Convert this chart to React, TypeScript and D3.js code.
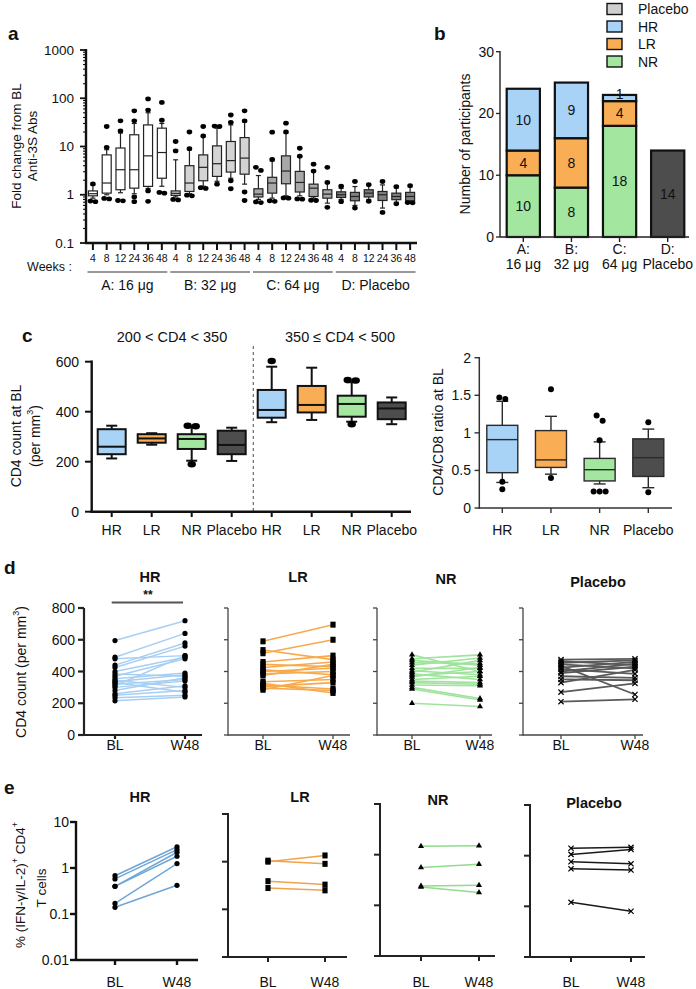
import React from "react";
import * as d3 from "d3";

const FONT = "'Liberation Sans', Arial, Helvetica, sans-serif";

const C_HR = "#a9d2f7";
const C_LR = "#f9ae55";
const C_NR = "#a2e6a0";
const C_PL = "#4d4d4d";

// ---------- Panel a ----------
const weekLabels = ["4", "8", "12", "24", "36", "48"];
const doseGroups = ["A: 16 μg", "B: 32 μg", "C: 64 μg", "D: Placebo"];
const groupFills = ["#ffffff", "#d4d4d4", "#a8a8a8", "#7f7f7f"];
const aTicks = [0.1, 1, 10, 100, 1000];
// [whisker low, q1, median, q3, whisker high]
const aStats: number[][] = [
  [0.85, 0.95, 1.05, 1.2, 1.6],
  [1.0, 1.08, 1.75, 6.7, 8.6],
  [1.1, 1.27, 3.3, 9.3, 19],
  [1.05, 1.37, 3.3, 17.5, 30],
  [1.35, 1.49, 6.4, 28, 50],
  [1.5, 2.2, 7.5, 24, 30],
  [0.9, 0.97, 1.07, 1.2, 5.3],
  [1.05, 1.17, 1.75, 4.0, 8.5],
  [1.5, 1.95, 3.7, 6.7, 16],
  [1.9, 2.4, 4.4, 10.3, 24],
  [2.2, 2.95, 5.1, 12.7, 28],
  [1.66, 2.67, 5.75, 15.3, 32],
  [0.8, 0.9, 1.03, 1.33, 2.5],
  [0.85, 1.08, 1.75, 2.3, 5.0],
  [0.95, 1.69, 3.1, 6.4, 19],
  [0.95, 1.14, 1.8, 3.05, 6.0],
  [0.85, 0.92, 1.37, 1.66, 3.0],
  [0.67, 0.85, 1.03, 1.27, 1.75],
  [0.8, 0.88, 1.0, 1.15, 1.35],
  [0.6, 0.75, 0.92, 1.12, 1.48],
  [0.8, 0.9, 1.08, 1.27, 1.6],
  [0.53, 0.76, 1.0, 1.17, 1.6],
  [0.7, 0.79, 0.92, 1.08, 1.37],
  [0.7, 0.75, 0.92, 1.12, 1.44],
];
const aOutliers: number[][] = [
  [0.72, 0.74, 1.68],
  [0.82, 0.84, 9.6, 26],
  [0.75, 0.76, 21, 34],
  [0.72, 0.9, 34, 55],
  [0.73, 1.2, 57, 97],
  [1.08, 1.12, 35, 82],
  [0.78, 0.8, 8.1, 12.7],
  [0.95, 0.98, 9.0, 20],
  [1.35, 1.4, 16.5, 26],
  [1.66, 26, 26.5],
  [1.33, 1.95, 31.5, 45],
  [0.76, 1.14, 34, 55],
  [0.69, 0.71, 3.2, 3.7],
  [0.73, 0.75, 5.4, 19.8],
  [0.85, 0.86, 20, 30.5],
  [0.81, 0.82, 6.3, 9.2],
  [0.76, 0.77, 3.1, 4.3],
  [0.55, 1.8, 3.7],
  [0.72, 1.5],
  [0.53, 1.88],
  [0.73, 1.62],
  [0.43, 1.88],
  [0.65, 1.48],
  [0.68, 0.69, 1.55],
];

// ---------- Panel b ----------
const bCats = ["A", "B", "C", "D"];
const bLabel1 = ["A:", "B:", "C:", "D:"];
const bLabel2 = ["16 μg", "32 μg", "64 μg", "Placebo"];
const bNR = [10, 8, 18, 0];
const bLR = [4, 8, 4, 0];
const bHR = [10, 9, 1, 0];
const bPlacebo = [0, 0, 0, 14];
const bTicks = [0, 10, 20, 30];
const legendKeys = ["Placebo", "HR", "LR", "NR"];

// ---------- Panel c ----------
const cCats = ["HR", "LR", "NR", "Placebo"];
const cTicks = [0, 200, 400, 600];
const cLowStats: number[][] = [
  [213, 230, 260, 330, 344],
  [268, 276, 293, 310, 314],
  [204, 251, 291, 310, 338],
  [203, 230, 267, 324, 336],
];
const cLowOut: number[][] = [[], [], [190, 342, 344], []];
const cHighStats: number[][] = [
  [358, 376, 407, 487, 580],
  [367, 397, 427, 503, 576],
  [360, 380, 431, 464, 518],
  [350, 370, 413, 437, 457],
];
const cHighOut: number[][] = [[603], [], [350, 525, 527], []];
const ratioTicks = [0, 0.5, 1, 1.5, 2];
const ratioStats: number[][] = [
  [0.34, 0.47, 0.91, 1.1, 1.42],
  [0.45, 0.54, 0.64, 1.03, 1.22],
  [0.32, 0.36, 0.51, 0.66, 0.88],
  [0.27, 0.42, 0.67, 0.92, 1.05],
];
const ratioOut: number[][] = [
  [0.25, 0.35, 1.45, 1.47],
  [0.4, 1.58],
  [0.22, 0.22, 0.22, 0.9, 1.16, 1.23],
  [0.21, 1.14],
];

// ---------- Panel d ----------
const dGroups = ["HR", "LR", "NR", "Placebo"];
const dTimes = ["BL", "W48"];
const dTicks = [0, 200, 400, 600, 800];
const dHR_BL = [595, 490, 480, 440, 425, 400, 385, 370, 355, 345, 335, 320, 310, 300, 260, 250, 235, 215, 330, 280];
const dHR_W48 = [720, 640, 500, 580, 560, 490, 370, 480, 390, 300, 380, 350, 500, 340, 310, 280, 250, 240, 270, 360];
const dLR_BL = [590, 535, 515, 460, 445, 425, 410, 400, 385, 375, 335, 325, 315, 305, 295, 285];
const dLR_W48 = [695, 475, 600, 500, 430, 460, 380, 420, 400, 445, 350, 265, 290, 330, 280, 375];
const dNR_BL = [505, 480, 470, 455, 440, 420, 405, 395, 385, 375, 365, 350, 340, 330, 315, 300, 290, 200];
const dNR_W48 = [400, 505, 440, 450, 485, 420, 380, 470, 350, 400, 425, 370, 330, 320, 310, 230, 220, 180];
const dPL_BL = [475, 465, 455, 445, 435, 425, 415, 400, 390, 370, 350, 330, 270, 210];
const dPL_W48 = [480, 440, 470, 420, 255, 460, 385, 450, 430, 360, 345, 410, 325, 225];

// ---------- Panel e ----------
const eTicks = [0.01, 0.1, 1, 10];
const eHR_BL = [0.68, 0.58, 0.4, 0.17, 0.14, 0.4];
const eHR_W48 = [2.9, 2.5, 2.2, 1.25, 0.42, 1.8];
const eLR_BL = [1.05, 1.0, 0.39, 0.28];
const eLR_W48 = [0.9, 1.35, 0.33, 0.25];
const eNR_BL = [1.46, 0.56, 0.24, 0.23];
const eNR_W48 = [1.5, 0.65, 0.25, 0.18];
const ePL_BL = [1.4, 1.06, 0.76, 0.55, 0.12];
const ePL_W48 = [1.46, 1.33, 0.69, 0.52, 0.08];

// ---------- helpers ----------
function spreadPts(vals: number[], yf: (v: number) => number, thr: number, gap: number) {
  const pts = vals.map((v) => ({ v, py: yf(v) })).sort((a, b) => a.py - b.py);
  const out: { py: number; dx: number }[] = [];
  let i = 0;
  while (i < pts.length) {
    let j = i + 1;
    while (j < pts.length && Math.abs(pts[j].py - pts[j - 1].py) < thr) j++;
    const n = j - i;
    for (let k = 0; k < n; k++) out.push({ py: pts[i + k].py, dx: (k - (n - 1) / 2) * gap });
    i = j;
  }
  return out;
}

function BoxG(props: any) {
  const { cx, w, cap, s, y, fill, stroke, sw } = props;
  const [lo, q1, md, q3, hi] = s;
  return (
    <g>
      <line x1={cx} x2={cx} y1={y(hi)} y2={y(q3)} stroke={stroke} strokeWidth={sw} />
      <line x1={cx} x2={cx} y1={y(q1)} y2={y(lo)} stroke={stroke} strokeWidth={sw} />
      <line x1={cx - cap / 2} x2={cx + cap / 2} y1={y(hi)} y2={y(hi)} stroke={stroke} strokeWidth={sw} />
      <line x1={cx - cap / 2} x2={cx + cap / 2} y1={y(lo)} y2={y(lo)} stroke={stroke} strokeWidth={sw} />
      <rect x={cx - w / 2} y={y(q3)} width={w} height={Math.max(0.5, y(q1) - y(q3))} fill={fill} stroke={stroke} strokeWidth={sw} />
      <line x1={cx - w / 2} x2={cx + w / 2} y1={y(md)} y2={y(md)} stroke={stroke} strokeWidth={sw} />
    </g>
  );
}

function Marker(props: any) {
  const { kind, x, y } = props;
  if (kind === "circle") return <circle cx={x} cy={y} r={2.6} fill="#000" />;
  if (kind === "square") return <rect x={x - 2.6} y={y - 3} width={5.2} height={6} fill="#000" />;
  if (kind === "triangle") {
    const p = d3.symbol().type(d3.symbolTriangle).size(16)();
    return <path d={p || ""} transform={`translate(${x},${y})`} fill="#000" />;
  }
  const s = 2.6;
  return (
    <g stroke="#000" strokeWidth={1.2}>
      <line x1={x - s} y1={y - s} x2={x + s} y2={y + s} />
      <line x1={x - s} y1={y + s} x2={x + s} y2={y - s} />
    </g>
  );
}

export default function App() {
  // ---- Panel a scales ----
  const yA = d3.scaleLog().domain([0.1, 1000]).range([243, 50]);
  const idxA = d3.range(24).map(String);
  const xA = d3.scalePoint<string>().domain(idxA).range([86, 417]).padding(0.5);
  const stepA = xA.step();
  const aAllTicks = yA.ticks();
  const isMajor = (t: number) => Math.abs(Math.log10(t) - Math.round(Math.log10(t))) < 1e-6;

  // ---- Panel b ----
  const yB = d3.scaleLinear().domain([0, 30]).range([237, 51.7]);
  const xB = d3.scaleBand<string>().domain(bCats).range([499, 692]).paddingInner(0.31).paddingOuter(0.16);
  const bRows = bCats.map((c, i) => ({ cat: c, NR: bNR[i], LR: bLR[i], HR: bHR[i], Placebo: bPlacebo[i] }));
  const stackB = d3.stack<any>().keys(["NR", "LR", "HR", "Placebo"])(bRows);
  const bColor: Record<string, string> = { NR: C_NR, LR: C_LR, HR: C_HR, Placebo: C_PL };
  const legColor: Record<string, string> = { Placebo: "#cfcfcf", HR: C_HR, LR: C_LR, NR: C_NR };
  const fills4 = [C_HR, C_LR, C_NR, C_PL];

  // ---- Panel c ----
  const yC = d3.scaleLinear().domain([0, 600]).range([511.7, 361.7]);
  const cAllCats = d3.range(8).map(String);
  const xC = d3.scalePoint<string>().domain(cAllCats).range([111.7, 391.7]);
  const yR = d3.scaleLinear().domain([0, 2]).range([508, 357.7]);
  const xR = d3.scalePoint<string>().domain(cCats).range([502.3, 648.3]);

  // ---- Panel d ----
  const yD = d3.scaleLinear().domain([0, 800]).range([735, 608]);
  const dX0 = [84, 228, 377, 523];
  const dXEnd = [202, 350, 492, 643];
  const dXs = [
    d3.scalePoint<string>().domain(dTimes).range([115, 185]),
    d3.scalePoint<string>().domain(dTimes).range([263, 333]),
    d3.scalePoint<string>().domain(dTimes).range([412, 480]),
    d3.scalePoint<string>().domain(dTimes).range([561, 635]),
  ];
  const dBL = [dHR_BL, dLR_BL, dNR_BL, dPL_BL];
  const dW = [dHR_W48, dLR_W48, dNR_W48, dPL_W48];
  const dLine = ["#a7cff3", "#f7aa4c", "#9fe39c", "#5a5a5a"];
  const dLineW = [1.5, 1.6, 1.6, 1.8];
  const kinds = ["circle", "square", "triangle", "x"];
  const dTitleY = [582, 582, 584, 587];

  // ---- Panel e ----
  const eX0 = [76, 228, 380, 530];
  const eXEnd = [198, 347, 495, 645];
  const eXs = [
    d3.scalePoint<string>().domain(dTimes).range([115, 177]),
    d3.scalePoint<string>().domain(dTimes).range([268, 325]),
    d3.scalePoint<string>().domain(dTimes).range([421, 479]),
    d3.scalePoint<string>().domain(dTimes).range([571, 631]),
  ];
  const eYs = [
    d3.scaleLog().domain([0.01, 10]).range([960, 822]),
    d3.scaleLog().domain([0.01, 10]).range([957, 814]),
    d3.scaleLog().domain([0.01, 10]).range([956, 804]),
    d3.scaleLog().domain([0.01, 10]).range([957, 805]),
  ];
  const eBL = [eHR_BL, eLR_BL, eNR_BL, ePL_BL];
  const eW = [eHR_W48, eLR_W48, eNR_W48, ePL_W48];
  const eLine = ["#6fa6d6", "#f3a24b", "#8fdc8b", "#1a1a1a"];
  const eTitlePos = [[140, 802], [300, 802], [438, 805], [594, 808]];

  const txt = { fontFamily: FONT, fill: "#111" } as any;

  return (
    <svg width={696} height={989} style={{ position: "absolute", left: 0, top: 0, background: "#fff" }} fontFamily={FONT}>
      <rect x={0} y={0} width={696} height={989} fill="#fff" />

      {/* ================= Panel a ================= */}
      <text x={8} y={40} fontSize={19} fontWeight="bold" {...txt}>a</text>
      <g transform="translate(16,146) rotate(-90)">
        <text textAnchor="middle" fontSize={13.5} dominantBaseline="central" {...txt}>Fold change from BL</text>
      </g>
      <g transform="translate(32,146) rotate(-90)">
        <text textAnchor="middle" fontSize={13.5} dominantBaseline="central" {...txt}>Anti-3S Abs</text>
      </g>
      {aAllTicks.map((t, i) => (
        <line key={"at" + i} x1={86} x2={isMajor(t) ? 80 : 83} y1={yA(t)} y2={yA(t)} stroke="#111" strokeWidth={isMajor(t) ? 1.8 : 1.1} />
      ))}
      {aTicks.map((t) => (
        <text key={"al" + t} x={74} y={yA(t)} textAnchor="end" dominantBaseline="central" fontSize={13.5} {...txt}>
          {String(t)}
        </text>
      ))}
      <line x1={86} x2={86} y1={49} y2={244} stroke="#111" strokeWidth={2.4} />
      <line x1={85} x2={417} y1={243} y2={243} stroke="#111" strokeWidth={2.4} />
      {idxA.map((k, i) => (
        <line key={"axt" + i} x1={xA(k)!} x2={xA(k)!} y1={243} y2={250} stroke="#111" strokeWidth={2} />
      ))}
      {idxA.map((k, i) => (
        <text key={"awl" + i} x={xA(k)!} y={262} textAnchor="middle" fontSize={10.5} {...txt}>
          {weekLabels[i % 6]}
        </text>
      ))}
      <text x={72} y={271} textAnchor="end" fontSize={12.5} {...txt}>Weeks :</text>
      {doseGroups.map((g, gi) => {
        const x1 = xA(String(gi * 6))! - stepA / 2 + 1.5;
        const x2 = xA(String(gi * 6 + 5))! + stepA / 2 - 1.5;
        return (
          <g key={"ag" + gi}>
            <line x1={x1} x2={x2} y1={272} y2={272} stroke="#333" strokeWidth={1.2} />
            <text x={(x1 + x2) / 2} y={290} textAnchor="middle" fontSize={14} {...txt}>{g}</text>
          </g>
        );
      })}
      {aStats.map((s, i) => {
        const cx = xA(String(i))!;
        return (
          <g key={"ab" + i}>
            <BoxG cx={cx} w={9} cap={5} s={s} y={yA} fill={groupFills[Math.floor(i / 6)]} stroke="#222" sw={1.2} />
            {spreadPts(aOutliers[i], yA, 4, 5).map((p, j) => (
              <ellipse key={j} cx={cx + p.dx} cy={p.py} rx={2.8} ry={2.4} fill="#000" />
            ))}
          </g>
        );
      })}

      {/* ================= Panel b ================= */}
      <text x={434} y={40} fontSize={19} fontWeight="bold" {...txt}>b</text>
      {legendKeys.map((k, i) => (
        <g key={"lg" + k}>
          <rect x={607} y={9 + i * 17.5 - 5.5} width={15} height={11} fill={legColor[k]} stroke="#111" strokeWidth={1.4} />
          <text x={638} y={9 + i * 17.5} dominantBaseline="central" fontSize={14} {...txt}>{k}</text>
        </g>
      ))}
      <g transform="translate(465,144) rotate(-90)">
        <text textAnchor="middle" dominantBaseline="central" fontSize={14} {...txt}>Number of participants</text>
      </g>
      {bTicks.map((t) => (
        <g key={"bt" + t}>
          <line x1={496} x2={500} y1={yB(t)} y2={yB(t)} stroke="#222" strokeWidth={1.3} />
          <text x={494} y={yB(t)} textAnchor="end" dominantBaseline="central" fontSize={14} {...txt}>{t}</text>
        </g>
      ))}
      {stackB.map((ser) =>
        ser.map((d: any, i: number) => {
          const v = d[1] - d[0];
          if (v <= 0) return null;
          const x = xB(bCats[i])!;
          const bw = xB.bandwidth();
          const y0 = yB(d[1]);
          const h = yB(d[0]) - yB(d[1]);
          return (
            <g key={ser.key + i}>
              <rect x={x} y={y0} width={bw} height={h} fill={bColor[ser.key]} stroke="#111" strokeWidth={2.2} />
              <text x={x + bw / 2} y={y0 + h / 2 + (v === 1 ? -4 : 0)} textAnchor="middle" dominantBaseline="central" fontSize={14} fill="#111" fontFamily={FONT}>
                {v}
              </text>
            </g>
          );
        })
      )}
      <line x1={500} x2={500} y1={51} y2={237} stroke="#222" strokeWidth={1.4} />
      <line x1={500} x2={689} y1={237} y2={237} stroke="#222" strokeWidth={1.6} />
      {bCats.map((c, i) => {
        const cx = xB(c)! + xB.bandwidth() / 2;
        return (
          <g key={"bx" + c}>
            <line x1={cx} x2={cx} y1={237} y2={242} stroke="#222" strokeWidth={1.4} />
            <text x={cx} y={254} textAnchor="middle" fontSize={14} {...txt}>{bLabel1[i]}</text>
            <text x={cx} y={269} textAnchor="middle" fontSize={14} {...txt}>{bLabel2[i]}</text>
          </g>
        );
      })}

      {/* ================= Panel c ================= */}
      <text x={22} y={342} fontSize={19} fontWeight="bold" {...txt}>c</text>
      <text x={172} y={342} textAnchor="middle" fontSize={14.5} {...txt}>200 &lt; CD4 &lt; 350</text>
      <text x={340} y={342} textAnchor="middle" fontSize={14.5} {...txt}>350 ≤ CD4 &lt; 500</text>
      <line x1={253.3} x2={253.3} y1={346} y2={511} stroke="#666" strokeWidth={1.2} strokeDasharray="3,3" />
      <g transform="translate(16,436) rotate(-90)">
        <text textAnchor="middle" dominantBaseline="central" fontSize={14} {...txt}>CD4 count at BL</text>
      </g>
      <g transform="translate(35,436) rotate(-90)">
        <text textAnchor="middle" dominantBaseline="central" fontSize={14} {...txt}>
          (per mm<tspan dy={-5} fontSize={9}>3</tspan><tspan dy={5}>)</tspan>
        </text>
      </g>
      {cTicks.map((t) => (
        <g key={"ct" + t}>
          <line x1={85} x2={91.7} y1={yC(t)} y2={yC(t)} stroke="#111" strokeWidth={2} />
          <text x={79} y={yC(t)} textAnchor="end" dominantBaseline="central" fontSize={14} {...txt}>{t}</text>
        </g>
      ))}
      {cAllCats.map((k, i) => {
        const cx = xC(k)!;
        const ci = i % 4;
        const s = i < 4 ? cLowStats[ci] : cHighStats[ci];
        const outs = i < 4 ? cLowOut[ci] : cHighOut[ci];
        return (
          <g key={"cb" + i}>
            <BoxG cx={cx} w={28} cap={11} s={s} y={yC} fill={fills4[ci]} stroke="#111" sw={2} />
            {spreadPts(outs, yC, 4, 8).map((p, j) => (
              <ellipse key={j} cx={cx + p.dx} cy={p.py} rx={4.2} ry={3.2} fill="#000" />
            ))}
            <line x1={cx} x2={cx} y1={511.7} y2={517} stroke="#111" strokeWidth={2} />
            <text x={cx} y={535} textAnchor="middle" fontSize={14} {...txt}>{cCats[ci]}</text>
          </g>
        );
      })}
      <line x1={91.7} x2={91.7} y1={360.5} y2={512.8} stroke="#111" strokeWidth={2.4} />
      <line x1={90.5} x2={411} y1={511.7} y2={511.7} stroke="#111" strokeWidth={2.4} />

      {/* right chart */}
      <g transform="translate(438,432) rotate(-90)">
        <text textAnchor="middle" dominantBaseline="central" fontSize={14} {...txt}>CD4/CD8 ratio at BL</text>
      </g>
      {ratioTicks.map((t) => (
        <g key={"rt" + t}>
          <line x1={474.5} x2={479.3} y1={yR(t)} y2={yR(t)} stroke="#333" strokeWidth={1.4} />
          <text x={471} y={yR(t)} textAnchor="end" dominantBaseline="central" fontSize={14} {...txt}>{String(t)}</text>
        </g>
      ))}
      {cCats.map((c, i) => {
        const cx = xR(c)!;
        return (
          <g key={"rb" + c}>
            <BoxG cx={cx} w={31} cap={12} s={ratioStats[i]} y={yR} fill={fills4[i]} stroke="#2a2a2a" sw={1.4} />
            {spreadPts(ratioOut[i], yR, 6, 6).map((p, j) => (
              <circle key={j} cx={cx + p.dx} cy={p.py} r={3} fill="#000" />
            ))}
            <line x1={cx} x2={cx} y1={508} y2={513} stroke="#333" strokeWidth={1.4} />
            <text x={cx} y={535} textAnchor="middle" fontSize={14} {...txt}>{c}</text>
          </g>
        );
      })}
      <line x1={479.3} x2={479.3} y1={357} y2={508.5} stroke="#333" strokeWidth={1.5} />
      <line x1={478.5} x2={672} y1={508} y2={508} stroke="#333" strokeWidth={1.5} />

      {/* ================= Panel d ================= */}
      <text x={4} y={574} fontSize={19} fontWeight="bold" {...txt}>d</text>
      <g transform="translate(21,672) rotate(-90)">
        <text textAnchor="middle" dominantBaseline="central" fontSize={14} {...txt}>
          CD4 count (per mm<tspan dy={-5} fontSize={9}>3</tspan><tspan dy={5}>)</tspan>
        </text>
      </g>
      {dGroups.map((g, gi) => {
        const xs = dXs[gi];
        const x0 = dX0[gi];
        const first = gi === 0;
        const axC = first ? "#222" : "#444";
        const axW = first ? 2.2 : 1.3;
        const midX = (xs("BL")! + xs("W48")!) / 2;
        return (
          <g key={"d" + g}>
            <text x={midX} y={dTitleY[gi]} textAnchor="middle" fontSize={14.5} fontWeight="bold" {...txt}>{g}</text>
            {dTicks.map((t) => (
              <line key={t} x1={x0 - (first ? 6 : 4)} x2={x0} y1={yD(t)} y2={yD(t)} stroke={axC} strokeWidth={axW} />
            ))}
            {first &&
              dTicks.map((t) => (
                <text key={"l" + t} x={x0 - 9} y={yD(t)} textAnchor="end" dominantBaseline="central" fontSize={14} {...txt}>{t}</text>
              ))}
            {dBL[gi].map((v, i) => (
              <line key={"ln" + i} x1={xs("BL")!} x2={xs("W48")!} y1={yD(v)} y2={yD(dW[gi][i])} stroke={dLine[gi]} strokeWidth={dLineW[gi]} />
            ))}
            {dBL[gi].map((v, i) => (
              <Marker key={"mb" + i} kind={kinds[gi]} x={xs("BL")!} y={yD(v)} />
            ))}
            {dW[gi].map((v, i) => (
              <Marker key={"mw" + i} kind={kinds[gi]} x={xs("W48")!} y={yD(v)} />
            ))}
            <line x1={x0} x2={x0} y1={yD(800)} y2={yD(0) + 0.8} stroke={axC} strokeWidth={axW} />
            <line x1={x0} x2={dXEnd[gi]} y1={yD(0)} y2={yD(0)} stroke={axC} strokeWidth={axW} />
            {dTimes.map((t) => (
              <g key={"dx" + t}>
                <line x1={xs(t)!} x2={xs(t)!} y1={yD(0)} y2={yD(0) + 4} stroke={axC} strokeWidth={axW} />
                <text x={xs(t)!} y={750} textAnchor="middle" fontSize={14} {...txt}>{t}</text>
              </g>
            ))}
          </g>
        );
      })}
      <text x={148} y={599} textAnchor="middle" fontSize={12} fontWeight="bold" {...txt}>**</text>
      <line x1={111.7} x2={183} y1={602.5} y2={602.5} stroke="#555" strokeWidth={2} />

      {/* ================= Panel e ================= */}
      <text x={4} y={794} fontSize={19} fontWeight="bold" {...txt}>e</text>
      <g transform="translate(20,885) rotate(-90)">
        <text textAnchor="middle" dominantBaseline="central" fontSize={13.5} {...txt}>
          % (IFN-γ/IL-2)<tspan dy={-5} fontSize={9}>+</tspan>
          <tspan dy={5}> CD4</tspan>
          <tspan dy={-5} fontSize={9}>+</tspan>
        </text>
      </g>
      <g transform="translate(41,888) rotate(-90)">
        <text textAnchor="middle" dominantBaseline="central" fontSize={13.5} {...txt}>T cells</text>
      </g>
      {dGroups.map((g, gi) => {
        const xs = eXs[gi];
        const ys = eYs[gi];
        const x0 = eX0[gi];
        const first = gi === 0;
        const axC = first ? "#111" : "#222";
        const axW = first ? 2.4 : 2;
        return (
          <g key={"e" + g}>
            <text x={eTitlePos[gi][0]} y={eTitlePos[gi][1]} textAnchor="middle" fontSize={14.5} fontWeight="bold" {...txt}>{g}</text>
            {eTicks.map((t) => (
              <line key={t} x1={x0 - 6} x2={x0} y1={ys(t)} y2={ys(t)} stroke={axC} strokeWidth={axW} />
            ))}
            {first &&
              eTicks.map((t) => (
                <text key={"l" + t} x={69} y={ys(t)} textAnchor="end" dominantBaseline="central" fontSize={14} {...txt}>{String(t)}</text>
              ))}
            {eBL[gi].map((v, i) => (
              <line key={"ln" + i} x1={xs("BL")!} x2={xs("W48")!} y1={ys(v)} y2={ys(eW[gi][i])} stroke={eLine[gi]} strokeWidth={1.5} />
            ))}
            {eBL[gi].map((v, i) => (
              <Marker key={"mb" + i} kind={kinds[gi]} x={xs("BL")!} y={ys(v)} />
            ))}
            {eW[gi].map((v, i) => (
              <Marker key={"mw" + i} kind={kinds[gi]} x={xs("W48")!} y={ys(v)} />
            ))}
            <line x1={x0} x2={x0} y1={ys(10) - 1} y2={ys(0.01) + 1} stroke={axC} strokeWidth={axW} />
            <line x1={x0} x2={eXEnd[gi]} y1={ys(0.01)} y2={ys(0.01)} stroke={axC} strokeWidth={axW} />
            {dTimes.map((t) => (
              <g key={"ex" + t}>
                <line x1={xs(t)!} x2={xs(t)!} y1={ys(0.01)} y2={ys(0.01) + 5} stroke={axC} strokeWidth={axW} />
                <text x={xs(t)!} y={987} textAnchor="middle" fontSize={14} {...txt}>{t}</text>
              </g>
            ))}
          </g>
        );
      })}
    </svg>
  );
}
